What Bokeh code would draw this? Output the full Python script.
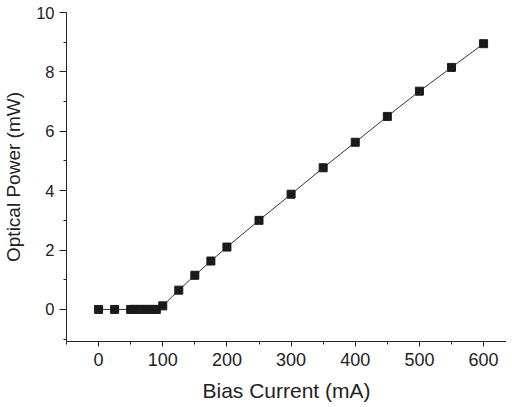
from bokeh.plotting import figure
from bokeh.models import Range1d, SingleIntervalTicker, LinearAxis
from bokeh.embed import file_html
from bokeh.resources import INLINE

bias_current = [0, 25, 50, 55, 60, 65, 70, 75, 80, 85, 90, 100, 125, 150, 175, 200,
                250, 300, 350, 400, 450, 500, 550, 600]
optical_power = [0.0, 0.0, 0.0, 0.0, 0.0, 0.0, 0.0, 0.0, 0.0, 0.0, 0.0, 0.12, 0.65, 1.15,
                 1.63, 2.1, 3.0, 3.88, 4.77, 5.63, 6.5, 7.35, 8.15, 8.95]

x_label = "Bias Current (mA)"
y_label = "Optical Power (mW)"

p = figure(frame_width=440, frame_height=329, output_backend="svg", toolbar_location=None,
           x_range=Range1d(-50, 635.7), y_range=Range1d(-1.08, 10),
           min_border_left=58, min_border_right=0, min_border_top=12, min_border_bottom=48)
p.xaxis.visible = False
p.yaxis.visible = False
p.grid.visible = False
p.outline_line_color = None

xa = LinearAxis(ticker=SingleIntervalTicker(interval=100, num_minor_ticks=2))
ya = LinearAxis(ticker=SingleIntervalTicker(interval=2, num_minor_ticks=2))
p.add_layout(xa, "below")
p.add_layout(ya, "left")
for ax, lab in ((xa, x_label), (ya, y_label)):
    ax.axis_label = lab
    ax.axis_label_text_font = "Liberation Sans"
    ax.axis_label_text_font_style = "normal"
    ax.axis_label_text_color = "#222222"
    ax.major_label_text_font = "Liberation Sans"
    ax.major_label_text_color = "#222222"
    ax.axis_line_color = "#222222"
    ax.major_tick_line_color = "#222222"
    ax.minor_tick_line_color = "#222222"
    ax.major_tick_in = 0
    ax.minor_tick_in = 0
    ax.minor_tick_out = 3
xa.axis_label_text_font_size = "21px"
ya.axis_label_text_font_size = "19px"
xa.major_label_text_font_size = "18px"
ya.major_label_text_font_size = "16.5px"
xa.major_tick_out = 5
ya.major_tick_out = 7
xa.major_label_standoff = 6
xa.axis_label_standoff = 10
ya.major_label_standoff = 5
ya.axis_label_standoff = 9

p.line(bias_current, optical_power, line_color="#333333", line_width=1)
p.scatter(bias_current, optical_power, marker="square", size=8,
          fill_color="#1a1a1a", line_color="#1a1a1a")

open("out.html", "w").write(file_html(p, INLINE))
